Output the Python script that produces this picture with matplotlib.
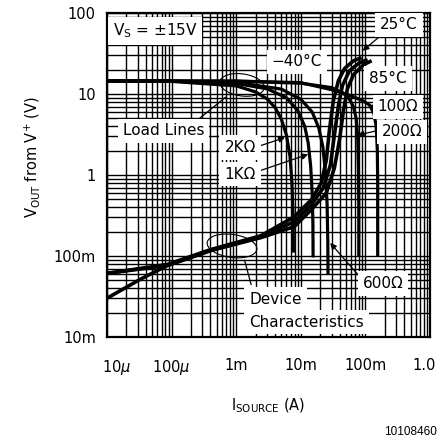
import matplotlib
matplotlib.use('Agg')
import matplotlib.pyplot as plt
from matplotlib.patches import Ellipse
from matplotlib.ticker import LogLocator, NullFormatter, FixedLocator
import matplotlib.transforms as mtransforms

# ---------------- data (I_SOURCE in A, V_OUT from V+ in V) ----------------
load_2k_i = [1e-5, 1e-4, 1e-3, 2e-3, 3e-3, 4e-3, 5e-3, 6e-3, 6.8e-3, 7.3e-3, 7.6e-3, 7.7e-3]
load_2k_v = [14.5, 14.3, 12.6, 10.6, 8.7, 6.8, 4.9, 3.1, 1.7, 0.8, 0.3, 0.11]

load_1k_i = [1e-5, 1e-4, 1e-3, 3e-3, 6e-3, 9e-3, 1.15e-2, 1.3e-2, 1.42e-2, 1.5e-2, 1.54e-2, 1.55e-2]
load_1k_v = [14.5, 14.4, 13.5, 11.6, 9.0, 6.2, 4.0, 2.5, 1.3, 0.6, 0.25, 0.096]

load_600_i = [1e-5, 1e-4, 1e-3, 5e-3, 1e-2, 1.5e-2, 1.9e-2, 2.2e-2, 2.4e-2, 2.55e-2, 2.62e-2, 2.64e-2]
load_600_v = [14.5, 14.45, 13.9, 11.5, 8.6, 6.0, 3.8, 2.2, 1.1, 0.45, 0.15, 0.059]

load_200_i = [1e-5, 1e-3, 1e-2, 3e-2, 4.5e-2, 5.5e-2, 6.5e-2, 7.2e-2, 7.6e-2, 7.8e-2, 7.9e-2, 7.9e-2]
load_200_v = [14.5, 14.4, 13.6, 12.0, 10.3, 9.0, 7.0, 5.0, 3.0, 1.2, 0.4, 0.1]

load_100_i = [1e-5, 1e-3, 1e-2, 3e-2, 6e-2, 9e-2, 0.116, 0.135, 0.147, 0.153, 0.155, 0.155]
load_100_v = [14.5, 14.45, 13.8, 11.3, 9.5, 8.3, 7.3, 5.8, 4.0, 2.0, 0.8, 0.1]

dev_a_i = [1e-5, 8.6e-5, 4.02e-4, 2.42e-3, 7.89e-3, 0.01452, 0.02078, 0.02486, 0.02769,
           0.03196, 0.03825, 0.04742, 0.06551, 0.0873]
dev_a_v = [0.061, 0.0787, 0.120, 0.178, 0.305, 0.493, 0.798, 1.528, 3.565,
           8.32, 14.64, 20.55, 25.76, 28.05]

dev_b_i = [1e-5, 3.27e-5, 8.6e-5, 4.02e-4, 2.42e-3, 7.89e-3, 0.01452, 0.02233, 0.0287,
           0.0331, 0.03825, 0.04415, 0.05674, 0.0812, 0.1082]
dev_b_v = [0.0301, 0.0515, 0.0764, 0.1168, 0.1735, 0.265, 0.4284, 0.693, 1.327,
           3.096, 7.225, 12.72, 19.43, 24.35, 26.5]

dev_c_i = [1e-5, 8.6e-5, 4.02e-4, 2.42e-3, 7.89e-3, 0.01452, 0.02486, 0.0331, 0.03963,
           0.04574, 0.05281, 0.06551, 0.0938, 0.1249]
dev_c_v = [0.061, 0.0764, 0.1168, 0.1687, 0.2301, 0.372, 0.601, 1.219, 2.688,
           6.272, 11.68, 17.35, 23.01, 25.76]

x_ticks = [1e-5, 1e-4, 1e-3, 1e-2, 1e-1, 1.0]
x_tick_labels = ['10$\\mu$', '100$\\mu$', '1m', '10m', '100m', '1.0']
y_ticks = [0.01, 0.1, 1, 10, 100]
y_tick_labels = ['10m', '100m', '1', '10', '100']

# ---------------- figure ----------------
plt.rcParams['font.family'] = ['DejaVu Sans']
fig = plt.figure(figsize=(4.48, 4.43), dpi=100)
ax = fig.add_axes([107/448, 1-337/443, 323/448, 324/443])
ax.set_xscale('log')
ax.set_yscale('log')
ax.set_xlim(1e-5, 1.0)
ax.set_ylim(0.01, 100)

ax.xaxis.set_major_locator(FixedLocator(x_ticks))
ax.set_xticklabels(x_tick_labels)
ax.yaxis.set_major_locator(FixedLocator(y_ticks))
ax.set_yticklabels(y_tick_labels)
ax.xaxis.set_minor_locator(LogLocator(base=10, subs=range(2, 10), numticks=20))
ax.yaxis.set_minor_locator(LogLocator(base=10, subs=range(2, 10), numticks=20))
ax.xaxis.set_minor_formatter(NullFormatter())
ax.yaxis.set_minor_formatter(NullFormatter())
ax.tick_params(which='both', length=0, labelsize=10.5)
ax.tick_params(axis='x', pad=15)
ax.tick_params(axis='y', pad=8)

ax.set_axisbelow(True)
ax.grid(which='both', color='black', lw=1.0)
for s in ax.spines.values():
    s.set_linewidth(1.6)

# shift first / last x tick labels inward
labels = ax.get_xticklabels()
labels[0].set_transform(labels[0].get_transform() + mtransforms.ScaledTranslation(7/72, 0, fig.dpi_scale_trans))
labels[-1].set_transform(labels[-1].get_transform() + mtransforms.ScaledTranslation(-4/72, 0, fig.dpi_scale_trans))

lw_load = 2.3
for xi, yi in [(load_2k_i, load_2k_v), (load_1k_i, load_1k_v), (load_600_i, load_600_v),
               (load_200_i, load_200_v), (load_100_i, load_100_v)]:
    ax.plot(xi, yi, color='black', lw=lw_load, solid_capstyle='butt', zorder=3)
for xi, yi in [(dev_a_i, dev_a_v), (dev_b_i, dev_b_v), (dev_c_i, dev_c_v)]:
    ax.plot(xi, yi, color='black', lw=2.6, solid_capstyle='butt', zorder=3)

box = dict(facecolor='white', edgecolor='none', pad=3.5)
tkw = dict(transform=ax.transAxes, fontsize=11, bbox=box, zorder=6, va='center')
ax.text(0.018, 0.945, 'V$_{\\mathrm{S}}$ = \u00b115V', ha='left', **tkw)
ax.text(0.588, 0.849, '\u221240\u00b0C', ha='center', **tkw)
ax.text(0.904, 0.963, '25\u00b0C', ha='center', **tkw)
ax.text(0.870, 0.799, '85\u00b0C', ha='center', **tkw)
ax.text(0.901, 0.710, '100\u03a9', ha='center', **tkw)
ax.text(0.913, 0.633, '200\u03a9', ha='center', **tkw)
ax.text(0.176, 0.636, 'Load Lines', ha='center', **tkw)
ax.text(0.412, 0.586, '2K\u03a9', ha='center', **tkw)
ax.text(0.412, 0.503, '1K\u03a9', ha='center', **tkw)
ax.text(0.854, 0.164, '600\u03a9', ha='center', **tkw)
ax.text(0.440, 0.117, 'Device', ha='left', **tkw)
ax.text(0.440, 0.046, 'Characteristics', ha='left', **tkw)

# ellipses
ax.add_patch(Ellipse((0.418, 0.778), 0.139, 0.068, angle=-8, transform=ax.transAxes,
                     fill=False, edgecolor='black', lw=0.8, zorder=5))
ax.add_patch(Ellipse((0.387, 0.281), 0.155, 0.071, angle=-8, transform=ax.transAxes,
                     fill=False, edgecolor='black', lw=0.8, zorder=5))

# leader lines and arrows (data coords)
ax.annotate('', xy=(7.39e-4, 9.6), xytext=(1.83e-4, 3.88),
            arrowprops=dict(arrowstyle='-', lw=0.9, color='black'), zorder=5)
ax.annotate('', xy=(1.75e-3, 0.041), xytext=(1.31e-3, 0.096),
            arrowprops=dict(arrowstyle='-', lw=0.9, color='black'), zorder=5)
arrow = dict(arrowstyle='-|>', lw=0.9, color='black', mutation_scale=9,
             shrinkA=0, shrinkB=0)
ax.annotate('', xy=(5.7e-3, 2.9), xytext=(2.25e-3, 2.27), arrowprops=arrow, zorder=5)
ax.annotate('', xy=(0.013, 1.8), xytext=(2.25e-3, 1.12), arrowprops=arrow, zorder=5)
ax.annotate('', xy=(0.0285, 0.145), xytext=(0.0783, 0.0577), arrowprops=arrow, zorder=5)
ax.annotate('', xy=(0.112, 7.2), xytext=(0.155, 6.8), arrowprops=arrow, zorder=5)
ax.annotate('', xy=(0.0757, 3.1), xytext=(0.185, 3.66), arrowprops=arrow, zorder=5)
ax.annotate('', xy=(0.0904, 34.2), xytext=(0.179, 53.7), arrowprops=arrow, zorder=5)

ax.set_xlabel('I$_{\\mathrm{SOURCE}}$ (A)', fontsize=10.5)
ax.xaxis.set_label_coords(0.498, -0.185)
ax.set_ylabel('V$_{\\mathrm{OUT}}$ from V$^{+}$ (V)', fontsize=10.5)
ax.yaxis.set_label_coords(-0.20, 0.556)

fig.text(437/448, 1-432/443, '10108460', fontsize=8.5, family='Liberation Sans',
         ha='right', va='center')

fig.savefig('out.png', dpi=100)
